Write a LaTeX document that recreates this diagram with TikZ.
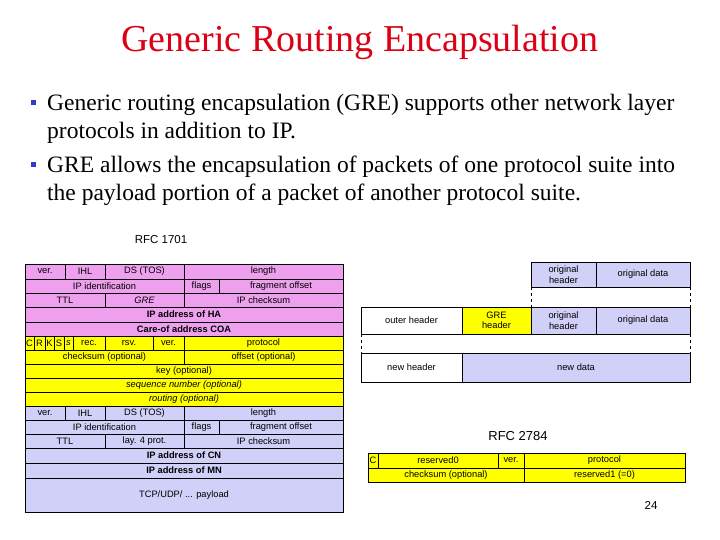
\documentclass[tikz,border=0pt]{standalone}
\usepackage{fontspec}
\setmainfont{Liberation Serif}
\newfontfamily\arialf{Liberation Sans}
\definecolor{pinkc}{RGB}{238,160,238}
\definecolor{yel}{RGB}{255,255,0}
\definecolor{lav}{RGB}{208,208,248}
\definecolor{titred}{RGB}{220,0,20}
\definecolor{bulblue}{RGB}{50,60,200}
\newcommand\cb[7]{\node[cellbox,fill=#6,minimum width={(#4-#2)*1pt},minimum height={(#5-#3)*1pt}] (#1) at ({(#2+#4)/2},{(#3+#5)/2}) {#7};}
\begin{document}
\begin{tikzpicture}[x=1pt,y=-1pt,
  cellbox/.style={draw,line width=0.5pt,inner sep=0pt,outer sep=0pt,font=\arialf\fontsize{9.3}{10.5}\selectfont,align=center},
  bul/.style={anchor=base west,font=\fontsize{23.5}{26}\selectfont,inner sep=0pt},
  bsq/.style={fill=bulblue,minimum size=5pt,inner sep=0pt},
  dsh/.style={dashed,line width=0.5pt,dash pattern=on 3pt off 3pt}]
\useasboundingbox (0,0) rectangle (720,540);
\node[font=\fontsize{38}{40}\selectfont,text=titred,inner sep=0pt] (title) at (360,42) {Generic Routing Encapsulation};
\node[bsq] (b1) at (33,103) {};
\node[bul] (l1) at (47,111) {Generic routing encapsulation (GRE) supports other network layer};
\node[bul] (l2) at (47,139) {protocols in addition to IP.};
\node[bsq] (b2) at (33,165) {};
\node[bul] (l3) at (47,173) {GRE allows the encapsulation of packets of one protocol suite into};
\node[bul] (l4) at (47,201) {the payload portion of a packet of another protocol suite.};
\node[font=\arialf\fontsize{11.5}{13}\selectfont,inner sep=0pt] (rfc1) at (161,240) {RFC 1701};
% left table
\cb{a1}{25}{264}{65}{279}{pinkc}{ver.}
\cb{a2}{65}{264}{105}{279}{pinkc}{IHL}
\cb{a3}{105}{264}{184}{279}{pinkc}{DS (TOS)}
\cb{a4}{184}{264}{343}{279}{pinkc}{length}
\cb{a5}{25}{279}{184}{293}{pinkc}{IP identification}
\cb{a6}{184}{279}{219}{293}{pinkc}{flags}
\cb{a7}{219}{279}{343}{293}{pinkc}{fragment offset}
\cb{a8}{25}{293}{105}{307}{pinkc}{TTL}
\cb{a9}{105}{293}{184}{307}{pinkc}{\itshape GRE}
\cb{a10}{184}{293}{343}{307}{pinkc}{IP checksum}
\cb{a11}{25}{307}{343}{322}{pinkc}{\bfseries IP address of HA}
\cb{a12}{25}{322}{343}{336}{pinkc}{\bfseries Care-of address COA}
\cb{c1}{25}{336}{34}{350}{yel}{C}
\cb{c2}{34}{336}{45}{350}{yel}{R}
\cb{c3}{45}{336}{54}{350}{yel}{K}
\cb{c4}{54}{336}{64}{350}{yel}{S}
\cb{c5}{64}{336}{73}{350}{yel}{\itshape s}
\cb{c6}{73}{336}{105}{350}{yel}{rec.}
\cb{c7}{105}{336}{153}{350}{yel}{rsv.}
\cb{c8}{153}{336}{184}{350}{yel}{ver.}
\cb{c9}{184}{336}{343}{350}{yel}{protocol}
\cb{c10}{25}{350}{184}{364}{yel}{checksum (optional)}
\cb{c11}{184}{350}{343}{364}{yel}{offset (optional)}
\cb{c12}{25}{364}{343}{378}{yel}{key (optional)}
\cb{c13}{25}{378}{343}{392}{yel}{\itshape sequence number (optional)}
\cb{c14}{25}{392}{343}{406}{yel}{\itshape routing (optional)}
\cb{d1}{25}{406}{65}{420}{lav}{ver.}
\cb{d2}{65}{406}{105}{420}{lav}{IHL}
\cb{d3}{105}{406}{184}{420}{lav}{DS (TOS)}
\cb{d4}{184}{406}{343}{420}{lav}{length}
\cb{d5}{25}{420}{184}{434}{lav}{IP identification}
\cb{d6}{184}{420}{219}{434}{lav}{flags}
\cb{d7}{219}{420}{343}{434}{lav}{fragment offset}
\cb{d8}{25}{434}{105}{448}{lav}{TTL}
\cb{d9}{105}{434}{184}{448}{lav}{lay. 4 prot.}
\cb{d10}{184}{434}{343}{448}{lav}{IP checksum}
\cb{d11}{25}{448}{343}{463}{lav}{\bfseries IP address of CN}
\cb{d12}{25}{463}{343}{478}{lav}{\bfseries IP address of MN}
\cb{d13}{25}{478}{343}{512}{lav}{TCP/UDP/ ... payload}
% right encapsulation
\cb{r1}{531}{262}{596}{287}{lav}{original\\header}
\cb{r2}{596}{262}{690}{287}{lav}{original data}
\cb{r3}{361}{307}{462}{334}{white}{outer header}
\cb{r4}{462}{307}{531}{334}{yel}{GRE\\header}
\cb{r5}{531}{307}{596}{334}{lav}{original\\header}
\cb{r6}{596}{307}{690}{334}{lav}{original data}
\cb{r7}{361}{353}{462}{382}{white}{new header}
\cb{r8}{462}{353}{690}{382}{lav}{new data}
\draw[dsh] (r1.south west) -- (r5.north west);
\draw[dsh] (r2.south east) -- (r6.north east);
\draw[dsh] (r3.south west) -- (r7.north west);
\draw[dsh] (r6.south east) -- (r8.north east);
\node[font=\arialf\fontsize{13}{15}\selectfont,inner sep=0pt] (rfc2) at (518,436) {RFC 2784};
\cb{e1}{368}{453}{378}{468}{yel}{C}
\cb{e2}{378}{453}{498}{468}{yel}{reserved0}
\cb{e3}{498}{453}{524}{468}{yel}{ver.}
\cb{e4}{524}{453}{685}{468}{yel}{protocol}
\cb{e5}{368}{468}{524}{482}{yel}{checksum (optional)}
\cb{e6}{524}{468}{685}{482}{yel}{reserved1 (=0)}
\node[font=\arialf\fontsize{11.5}{13}\selectfont,inner sep=0pt] (pg) at (651,505) {24};
\end{tikzpicture}
\end{document}
